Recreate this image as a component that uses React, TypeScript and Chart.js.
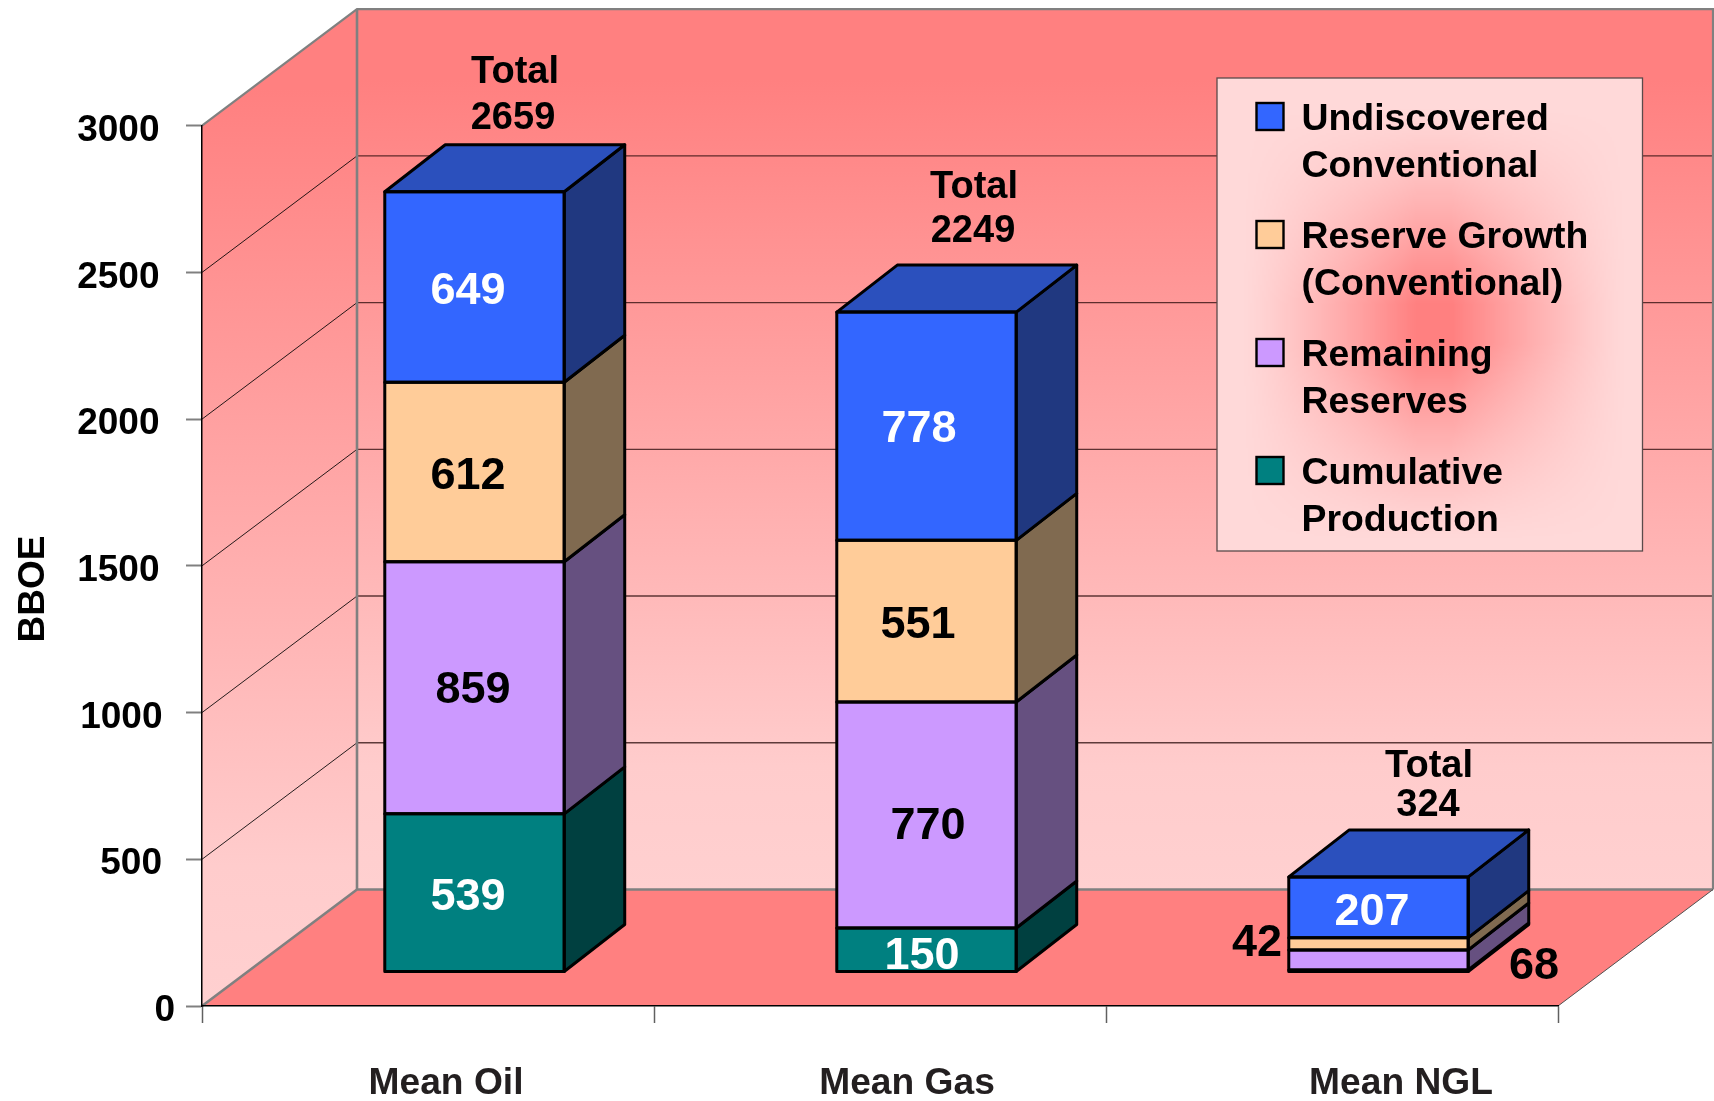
import React, { useEffect, useRef } from "react";
import { Chart, registerables } from "chart.js";

Chart.register(...registerables);

// ---- data -------------------------------------------------------------
const categories = ["Mean Oil", "Mean Gas", "Mean NGL"];
const seriesNames = ["Cumulative Production", "Remaining Reserves", "Reserve Growth (Conventional)", "Undiscovered Conventional"];
const cumulativeProduction = [539, 150, 7];
const remainingReserves = [859, 770, 68];
const reserveGrowth = [612, 551, 42];
const undiscovered = [649, 778, 207];
const totals = [2659, 2249, 324];
const yTicks = [0, 500, 1000, 1500, 2000, 2500, 3000];
const legendLines = [
  ["Cumulative", "Production"],
  ["Remaining", "Reserves"],
  ["Reserve Growth", "(Conventional)"],
  ["Undiscovered", "Conventional"],
];

// ---- styles and layout ------------------------------------------------
const FONT = '"Liberation Sans", Arial, sans-serif';
const frontColors = ["#008080", "#CC99FF", "#FFCC99", "#3366FF"];
const sideColors = ["#004040", "#665080", "#806A50", "#203880"];
const topColor = "#2B50BD";
const labelColors = ["#FFFFFF", "#000000", "#000000", "#FFFFFF"];
const WALL_DX = 155;
const WALL_DY = 116.5;
const BAR_SHIFT_X = 46.5;
const BAR_SHIFT_Y = -34;
const BAR_DX = 60.5;
const BAR_DY = 47;
const OUTLINE = 3;
// [dx, dy] from the centre of each segment: [series][category]
const valueOffsets = [
  [[-6.5, 1], [-4.5, 3], null],
  [[-1.5, -1], [1.5, 8], [155.5, 3]],
  [[-6.5, 1], [-8.5, 0], [-121.5, -4]],
  [[-6.5, 1], [-7.5, -1], [-6.5, 1]],
];
const totalPos = [
  [515, 70, 513, 116],
  [974, 185, 973, 229],
  [1429, 764, 1428, 803],
];
const xLabelShift = [18, 27, 69];
const yLabelShift = [18, 5, 5.5, 2.5, 2.5, 2.5, 2.5];
const LEGEND = { x: 1217, y: 78, w: 425.5, h: 473 };

function wallGradient(ctx: CanvasRenderingContext2D, y0: number, y1: number) {
  const g = ctx.createLinearGradient(0, y0, 0, y1);
  g.addColorStop(0, "#FF8080");
  g.addColorStop(0.08, "#FF8080");
  g.addColorStop(0.86, "#FFCCCC");
  g.addColorStop(1, "#FFD0D0");
  return g;
}

function poly(ctx: CanvasRenderingContext2D, pts: number[][]) {
  ctx.beginPath();
  pts.forEach((p, i) => (i ? ctx.lineTo(p[0], p[1]) : ctx.moveTo(p[0], p[1])));
  ctx.closePath();
}

function line(ctx: CanvasRenderingContext2D, pts: number[][], color: string, width: number) {
  ctx.beginPath();
  pts.forEach((p, i) => (i ? ctx.lineTo(p[0], p[1]) : ctx.moveTo(p[0], p[1])));
  ctx.strokeStyle = color;
  ctx.lineWidth = width;
  ctx.stroke();
}

function legendFalloff(s: number) {
  return Math.pow(Math.max(0, Math.min(1, (s - 0.12) / 0.8)), 1.2);
}

const framePlugin = {
  id: "frame",
  beforeDraw(chart: any) {
    const { ctx, chartArea: a, scales } = chart;
    // move the axes' own tick labels to where the reference has them
    scales.x.getLabelItems().forEach((it: any, i: number) => {
      if (it.__moved) return;
      it.__moved = true;
      const t = it.options.translation;
      it.options.translation = [t[0] + xLabelShift[i], t[1]];
    });
    scales.y.getLabelItems().forEach((it: any, i: number) => {
      if (it.__moved) return;
      it.__moved = true;
      const t = it.options.translation;
      it.options.translation = [t[0] + yLabelShift[i], t[1] + 5];
    });

    const L = a.left, R = a.right, T = a.top, B = a.bottom;
    const dx = WALL_DX, dy = WALL_DY;
    ctx.save();
    // left wall
    poly(ctx, [[L, T], [L + dx, T - dy], [L + dx, B - dy], [L, B]]);
    ctx.fillStyle = wallGradient(ctx, T - dy, B);
    ctx.fill();
    // back wall
    ctx.fillStyle = wallGradient(ctx, T - dy, B - dy);
    ctx.fillRect(L + dx, T - dy, R - L, B - T);
    // floor
    poly(ctx, [[L, B], [L + dx, B - dy], [R + dx, B - dy], [R, B]]);
    ctx.fillStyle = "#FF8080";
    ctx.fill();
    // grid lines on both walls
    yTicks.forEach((v) => {
      if (v === 0 || v === 3000) return;
      const y = scales.y.getPixelForValue(v);
      line(ctx, [[L, y], [L + dx, y - dy]], "rgba(0,0,0,0.85)", 1);
      line(ctx, [[L + dx, y - dy], [R + dx, y - dy]], "rgba(40,10,10,0.75)", 1.4);
    });
    // frame edges
    const gray = "#808080";
    line(ctx, [[L, T], [L + dx, T - dy], [R + dx, T - dy], [R + dx, B - dy]], gray, 2.2);
    line(ctx, [[L + dx, T - dy], [L + dx, B - dy]], gray, 2.6);
    line(ctx, [[L, B], [L + dx, B - dy], [R + dx, B - dy]], gray, 2.6);
    line(ctx, [[R, B], [R + dx, B - dy]], "#505050", 1);
    ctx.restore();
  },
  beforeDatasetsDraw(chart: any) {
    chart.ctx.save();
    chart.ctx.translate(BAR_SHIFT_X, BAR_SHIFT_Y);
  },
  afterDatasetsDraw(chart: any) {
    const { ctx } = chart;
    // depth faces of each stacked segment, built from the bars the library laid out
    ctx.lineJoin = "round";
    ctx.lineWidth = OUTLINE;
    ctx.strokeStyle = "#000000";
    chart.data.datasets.forEach((_: any, di: number) => {
      chart.getDatasetMeta(di).data.forEach((bar: any) => {
        const { x, y, base, width } = bar.getProps(["x", "y", "base", "width"], true);
        const r = x + width / 2;
        const l = x - width / 2;
        poly(ctx, [[r, y], [r + BAR_DX, y - BAR_DY], [r + BAR_DX, base - BAR_DY], [r, base]]);
        ctx.fillStyle = sideColors[di];
        ctx.fill();
        ctx.stroke();
        if (di === chart.data.datasets.length - 1) {
          poly(ctx, [[l, y], [l + BAR_DX, y - BAR_DY], [r + BAR_DX, y - BAR_DY], [r, y]]);
          ctx.fillStyle = topColor;
          ctx.fill();
          ctx.stroke();
        }
        // even outline on the front face
        ctx.strokeRect(l, y, width, base - y);
      });
    });
    ctx.restore();

    // value labels
    ctx.save();
    ctx.textAlign = "center";
    ctx.textBaseline = "middle";
    ctx.font = `bold 45px ${FONT}`;
    chart.data.datasets.forEach((ds: any, di: number) => {
      chart.getDatasetMeta(di).data.forEach((bar: any, ci: number) => {
        const off = valueOffsets[di][ci];
        if (!off) return;
        const { x, y, base } = bar.getProps(["x", "y", "base"], true);
        const outside = Math.abs(off[0]) > 50;
        ctx.fillStyle = outside ? "#000000" : labelColors[di];
        ctx.fillText(String(ds.data[ci]), x + BAR_SHIFT_X + off[0], (y + base) / 2 + BAR_SHIFT_Y + off[1] + 4);
      });
    });
    // totals
    ctx.font = `bold 38px ${FONT}`;
    ctx.fillStyle = "#000000";
    totals.forEach((t, i) => {
      const p = totalPos[i];
      ctx.fillText("Total", p[0], p[1] + 3);
      ctx.fillText(String(t), p[2], p[3] + 3);
    });
    ctx.restore();
  },
  afterDraw(chart: any) {
    const { ctx } = chart;
    ctx.save();
    // axis title
    ctx.save();
    ctx.translate(33, 589);
    ctx.rotate(-Math.PI / 2);
    ctx.font = `bold 37px ${FONT}`;
    ctx.textAlign = "center";
    ctx.textBaseline = "middle";
    ctx.fillStyle = "#000000";
    ctx.fillText("BBOE", 0, 1);
    ctx.restore();

    // legend box with its star-shaped gradient
    const { x, y, w, h } = LEGEND;
    const off = document.createElement("canvas");
    const ow = Math.round(w / 2), oh = Math.round(h / 2);
    off.width = ow;
    off.height = oh;
    const oc = off.getContext("2d")!;
    const img = oc.createImageData(ow, oh);
    for (let j = 0; j < oh; j++) {
      for (let i = 0; i < ow; i++) {
        const u = 1 - Math.abs((i + 0.5) / ow - 0.51) * 2 / 1.02;
        const v = 1 - Math.abs((j + 0.5) / oh - 0.52) * 2 / 1.04;
        const t = legendFalloff(u) * legendFalloff(v);
        const k = (j * ow + i) * 4;
        img.data[k] = 255;
        img.data[k + 1] = 217 - (217 - 128) * t;
        img.data[k + 2] = 217 - (217 - 128) * t;
        img.data[k + 3] = 255;
      }
    }
    oc.putImageData(img, 0, 0);
    ctx.imageSmoothingEnabled = true;
    ctx.drawImage(off, x, y, w, h);
    ctx.strokeStyle = "#5a4a4a";
    ctx.lineWidth = 1.3;
    ctx.strokeRect(x, y, w, h);

    // legend entries, top entry = last stacked series
    ctx.font = `bold 37.4px ${FONT}`;
    ctx.textAlign = "left";
    ctx.textBaseline = "middle";
    [3, 2, 1, 0].forEach((s, row) => {
      const sy = 102 + row * 118;
      ctx.fillStyle = frontColors[s];
      ctx.fillRect(1256.5, sy + 1, 27, 27);
      ctx.strokeStyle = "#000000";
      ctx.lineWidth = 2.4;
      ctx.strokeRect(1256.5, sy + 1, 27, 27);
      ctx.fillStyle = "#000000";
      ctx.fillText(legendLines[s][0], 1301.5, sy + 18);
      ctx.fillText(legendLines[s][1], 1301.5, sy + 65);
    });
    ctx.restore();
  },
};

export default function App() {
  const ref = useRef<HTMLCanvasElement>(null);
  useEffect(() => {
    document.body.style.margin = "0";
    document.body.style.background = "#FFFFFF";
    const seriesValues = [cumulativeProduction, remainingReserves, reserveGrowth, undiscovered];
    const chart = new Chart(ref.current!, {
      type: "bar",
      data: {
        labels: categories,
        datasets: seriesValues.map((data, i) => ({
          label: seriesNames[i],
          data,
          backgroundColor: frontColors[i],
          borderWidth: 0,
          categoryPercentage: 1,
          barPercentage: 0.397,
          clip: false,
        })),
      },
      options: {
        responsive: false,
        animation: false,
        devicePixelRatio: 1,
        layout: { autoPadding: false, padding: { left: 0, right: 156, top: 125.7, bottom: 0 } },
        plugins: { legend: { display: false }, tooltip: { enabled: false }, title: { display: false } },
        scales: {
          x: {
            stacked: true,
            afterFit: (s: any) => { s.height = 95; },
            border: { color: "#000000", width: 1.5 },
            grid: { drawOnChartArea: false, drawTicks: true, tickLength: 17, tickColor: "#606060", tickWidth: 1.5 },
            ticks: { color: "#231F20", font: { family: FONT, weight: "bold", size: 37.2 }, padding: 38, maxRotation: 0, autoSkip: false },
          },
          y: {
            stacked: true,
            min: 0,
            max: 3000,
            afterFit: (s: any) => { s.width = 202; },
            afterBuildTicks: (s: any) => { s.ticks = yTicks.map((value) => ({ value })); },
            border: { color: "#000000", width: 1.5 },
            grid: { drawOnChartArea: false, drawTicks: true, tickLength: 16, tickColor: "#808080", tickWidth: 2 },
            ticks: { color: "#000000", font: { family: FONT, weight: "bold", size: 37 }, padding: 29, callback: (v: any) => String(v) },
          },
        },
      },
      plugins: [framePlugin],
    } as any);
    return () => chart.destroy();
  }, []);
  return <canvas ref={ref} width={1714} height={1101} style={{ display: "block" }} />;
}
